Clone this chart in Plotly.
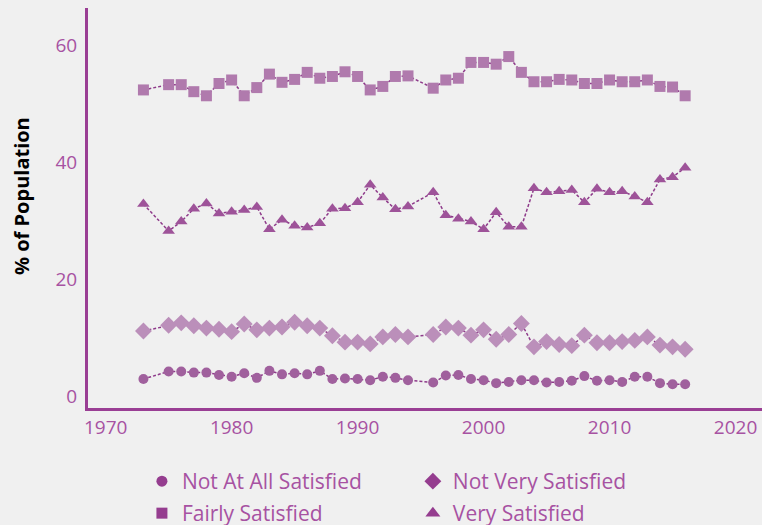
import plotly.graph_objects as go

BG = "#f0f0f0"
AXIS = "#9a3e94"
TEXT = "#a752a2"
LINE = "#8e3a8a"

years = [1973] + list(range(1975, 1995)) + list(range(1996, 2017))

not_at_all = [2.9, 4.2, 4.2, 4.0, 4.0, 3.6, 3.3, 3.9, 3.1, 4.3, 3.7, 3.9, 3.7, 4.3,
              2.9, 3.0, 2.9, 2.7, 3.3, 3.1, 2.7,
              2.3, 3.5, 3.6, 2.9, 2.7, 2.2, 2.4, 2.7, 2.7, 2.3, 2.4, 2.6, 3.4,
              2.6, 2.7, 2.4, 3.3, 3.3, 2.2, 2.0, 2.0]
not_very = [11.1, 12.1, 12.5, 12.0, 11.6, 11.4, 11.0, 12.3, 11.3, 11.6, 11.8, 12.6,
            12.0, 11.6, 10.3, 9.2, 9.2, 8.9, 10.1, 10.5, 10.1,
            10.5, 11.8, 11.6, 10.4, 11.3, 9.7, 10.5, 12.4, 8.4, 9.3, 8.8, 8.6,
            10.4, 9.1, 9.1, 9.3, 9.5, 10.1, 8.7, 8.4, 8.0]
fairly = [52.3, 53.2, 53.2, 52.0, 51.3, 53.4, 54.0, 51.3, 52.7, 55.0, 53.6, 54.1,
          55.3, 54.3, 54.6, 55.4, 54.6, 52.3, 52.9, 54.6, 54.7,
          52.6, 54.0, 54.3, 57.0, 57.0, 56.7, 58.0, 55.3, 53.7, 53.7, 54.1, 54.0,
          53.4, 53.4, 54.0, 53.7, 53.7, 54.0, 52.9, 52.8, 51.3]
very = [32.8, 28.2, 29.8, 32.0, 32.9, 31.2, 31.5, 31.8, 32.3, 28.5, 30.1, 29.1,
        28.8, 29.5, 32.0, 32.1, 33.1, 36.1, 33.9, 31.9, 32.4,
        34.8, 30.9, 30.3, 29.8, 28.5, 31.4, 28.9, 28.9, 35.5, 34.8, 35.0, 35.2,
        33.1, 35.4, 34.8, 35.0, 34.1, 33.1, 37.0, 37.4, 39.0]

# name, values, symbol, plot size, plot colour, legend size, legend row
series = [
    ("Fairly Satisfied", fairly, "square", 11, "#b07aad", 11, "legend2"),
    ("Very Satisfied", very, "triangle-up", 11, "#9e5399", 13, "legend2"),
    ("Not Very Satisfied", not_very, "diamond", 13, "#bb8fba", 13, "legend"),
    ("Not At All Satisfied", not_at_all, "circle", 10, "#a0609d", 11, "legend"),
]

fig = go.Figure()

for name, vals, sym, size, col, _, _ in series:
    fig.add_trace(go.Scatter(
        x=years, y=vals, mode="lines+markers", showlegend=False,
        line=dict(color=LINE, width=1.5, dash="3px,2px"),
        marker=dict(symbol=sym, size=size, color=col),
        name=name,
    ))

# legend-only entries (uniform dark markers, no line), two rows
legend_order = ["Not At All Satisfied", "Not Very Satisfied",
                "Fairly Satisfied", "Very Satisfied"]
lookup = {s[0]: s for s in series}
for name in legend_order:
    _, _, sym, _, _, lsize, leg = lookup[name]
    fig.add_trace(go.Scatter(
        x=[None], y=[None], mode="markers", name=name, legend=leg,
        marker=dict(symbol=sym, size=lsize, color="#953d8f"),
    ))

legend_style = dict(
    orientation="h", x=0.08, xanchor="left", yanchor="top",
    entrywidth=0.402, entrywidthmode="fraction",
    font=dict(size=21, color=TEXT), bgcolor="rgba(0,0,0,0)",
    itemsizing="trace",
)

fig.update_layout(
    width=762, height=525,
    paper_bgcolor=BG, plot_bgcolor=BG,
    margin=dict(l=88, r=0, t=8, b=117, autoexpand=False),
    font=dict(family="Open Sans", color=TEXT, size=19),
    legend=dict(legend_style, y=-0.1325),
    legend2=dict(legend_style, y=-0.2125),
)
fig.update_xaxes(
    range=[1968.6, 2022.1], tickvals=[1970, 1980, 1990, 2000, 2010, 2020],
    showgrid=False, zeroline=False, showline=True, linecolor=AXIS, linewidth=3,
    ticks="", tickfont=dict(size=19, color=TEXT),
)
fig.update_yaxes(
    range=[-2.05, 66.3], tickvals=[0, 20, 40, 60],
    showgrid=False, zeroline=False, showline=True, linecolor=AXIS, linewidth=3,
    ticks="", tickfont=dict(size=19, color=TEXT), ticklabelstandoff=4,
)
fig.add_annotation(
    text="<b>% of Population</b>", textangle=-90, showarrow=False,
    xref="paper", yref="paper", x=-0.0994, y=0.53,
    xanchor="center", yanchor="middle",
    font=dict(size=20, color="black", family="Open Sans"),
)

fig.write_html(
    "out.html",
    config={"displayModeBar": False},
    post_script="document.body.style.margin='0';"
                "document.body.style.background='#f0f0f0';",
)
